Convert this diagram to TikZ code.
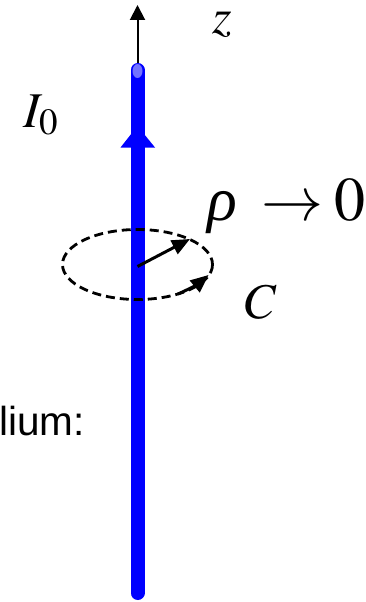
\documentclass[tikz,border=0pt]{standalone}
\usepackage{mathptmx}
\usepackage{fontspec}
\newfontfamily\notefont{Liberation Sans}
\newfontfamily\rhofont{Liberation Serif}
\usetikzlibrary{arrows.meta, positioning}

\begin{document}
\begin{tikzpicture}[x=1pt, y=-1pt,
            wire/.style={line width=14pt, line cap=round, draw=blue},
            axis_arrow/.style={-{Triangle[length=15pt, width=15pt]}, line width=2pt, black},
            radius_arrow/.style={-{Triangle[length=18pt, width=15pt]}, line width=3pt, black},
            loop_line/.style={dashed, dash pattern=on 9pt off 5pt, line width=2.8pt, black},
            math_label/.style={inner sep=0pt, font=\fontsize{50}{60}\selectfont}
        ]
            \useasboundingbox (0,0) rectangle (366,602);

            % Wire and z axis
            \coordinate (wiretop) at (137.5, 70);
            \coordinate (wirebot) at (137.5, 593);
            \coordinate (ztip)    at (137.5, 5);
            \draw[axis_arrow] (wiretop) -- (ztip);
            \draw[wire] (wiretop) -- (wirebot);
            \fill[blue!55!white] (137.5, 71) ellipse [x radius=5, y radius=7];

            % Current direction
            \fill[blue] (137.5, 126) -- (120.5, 147.5) -- (155, 147.5) -- cycle;

            % Loop C
            \coordinate (loop) at (137.5, 264.5);
            \draw[loop_line] (loop) ellipse [x radius=75, y radius=35];
            \coordinate (rhotip)    at (190, 239);
            \coordinate (circstart) at (178, 294);
            \coordinate (circtip)   at (208.5, 275);
            \draw[radius_arrow] (loop) ++(0, 2) -- (rhotip);
            \draw[radius_arrow] (circstart) to[bend right=8] (circtip);

            % Labels
            \node[math_label, anchor=base] (zlab) at (222, 34) {$z$};
            \node[math_label] (ilab) at (41, 115) {$I_0$};
            \node[math_label, font=\fontsize{62}{70}\selectfont, anchor=base west] (rholab) at (207, 220)
                {$\mbox{\rhofont\itshape ρ}\kern11pt\rightarrow\kern-3pt0$};
            \node[math_label] (clab) at (261, 302) {$C$};
            \node[inner sep=0pt, anchor=base west, font=\notefont\fontsize{40.5}{48}\selectfont] (note) at (-1, 435) {lium:};

        \end{tikzpicture}
\end{document}
